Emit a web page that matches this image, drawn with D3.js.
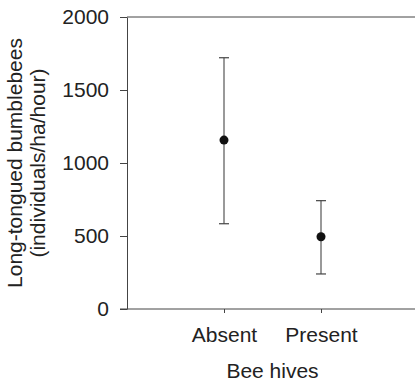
<!DOCTYPE html>
<html>
<head>
<meta charset="utf-8">
<script src="https://cdn.jsdelivr.net/npm/d3@7"></script>
<style>
  body { margin: 0; background: #fff; }
  text { font-family: "Liberation Sans", Arial, sans-serif; fill: #222; }
</style>
</head>
<body>
<div id="chart"></div>
<script>
// data
const categories = ["Absent", "Present"];
const means = [1157, 495];
const upper = [1721, 742];
const lower = [584, 240];
const yTicks = [0, 500, 1000, 1500, 2000];

const W = 415, H = 384;
const margin = { top: 17, right: -3, bottom: 75, left: 127 };
const width = W - margin.left - margin.right;
const height = H - margin.top - margin.bottom;

const svg = d3.select("#chart").append("svg")
  .attr("width", W)
  .attr("height", H);

const g = svg.append("g")
  .attr("transform", `translate(${margin.left},${margin.top})`);

const x = d3.scalePoint().domain(categories).range([0, width]).padding(1);
const y = d3.scaleLinear().domain([0, 2000]).range([height, 0]);

// top frame line
g.append("line")
  .attr("x1", 0).attr("x2", width)
  .attr("y1", 0).attr("y2", 0)
  .attr("stroke", "#444").attr("stroke-width", 1);

// axes
const yAxis = g.append("g")
  .call(d3.axisLeft(y).tickValues(yTicks).tickFormat(d3.format("d"))
    .tickSize(7).tickPadding(11).tickSizeOuter(0));
const xAxis = g.append("g")
  .attr("transform", `translate(0,${height})`)
  .call(d3.axisBottom(x).tickSize(4).tickPadding(14).tickSizeOuter(0));

[yAxis, xAxis].forEach(a => {
  a.select(".domain").attr("stroke", "#444");
  a.selectAll(".tick line").attr("stroke", "#444");
  a.selectAll("text").style("font-size", "21px").attr("fill", "#222");
});
// extend x domain to the y tick at 0
xAxis.select(".domain").attr("d", `M-7,0H${width}`);

const data = categories.map((c, i) => ({ c, m: means[i], hi: upper[i], lo: lower[i] }));

// error bars
const eb = g.selectAll(".eb").data(data).enter().append("g").attr("class", "eb");
eb.append("line")
  .attr("x1", d => x(d.c)).attr("x2", d => x(d.c))
  .attr("y1", d => y(d.hi)).attr("y2", d => y(d.lo))
  .attr("stroke", "#555").attr("stroke-width", 1.2);
["hi", "lo"].forEach(k => {
  eb.append("line")
    .attr("x1", d => x(d.c) - 5).attr("x2", d => x(d.c) + 5)
    .attr("y1", d => y(d[k])).attr("y2", d => y(d[k]))
    .attr("stroke", "#444").attr("stroke-width", 1.2);
});

// means
g.selectAll(".dot").data(data).enter().append("circle")
  .attr("cx", d => x(d.c)).attr("cy", d => y(d.m))
  .attr("r", 4.5).attr("fill", "#111");

// axis titles
g.append("text")
  .attr("x", width / 2).attr("y", height + 69)
  .attr("text-anchor", "middle")
  .style("font-size", "21px")
  .text("Bee hives");

const yl = svg.append("text")
  .attr("transform", `translate(22,${margin.top + height / 2}) rotate(-90)`)
  .attr("text-anchor", "middle")
  .style("font-size", "21px");
yl.append("tspan").attr("x", 0).attr("dy", 0).text("Long-tongued bumblebees");
yl.append("tspan").attr("x", 0).attr("dy", 23).text("(individuals/ha/hour)");
</script>
</body>
</html>
